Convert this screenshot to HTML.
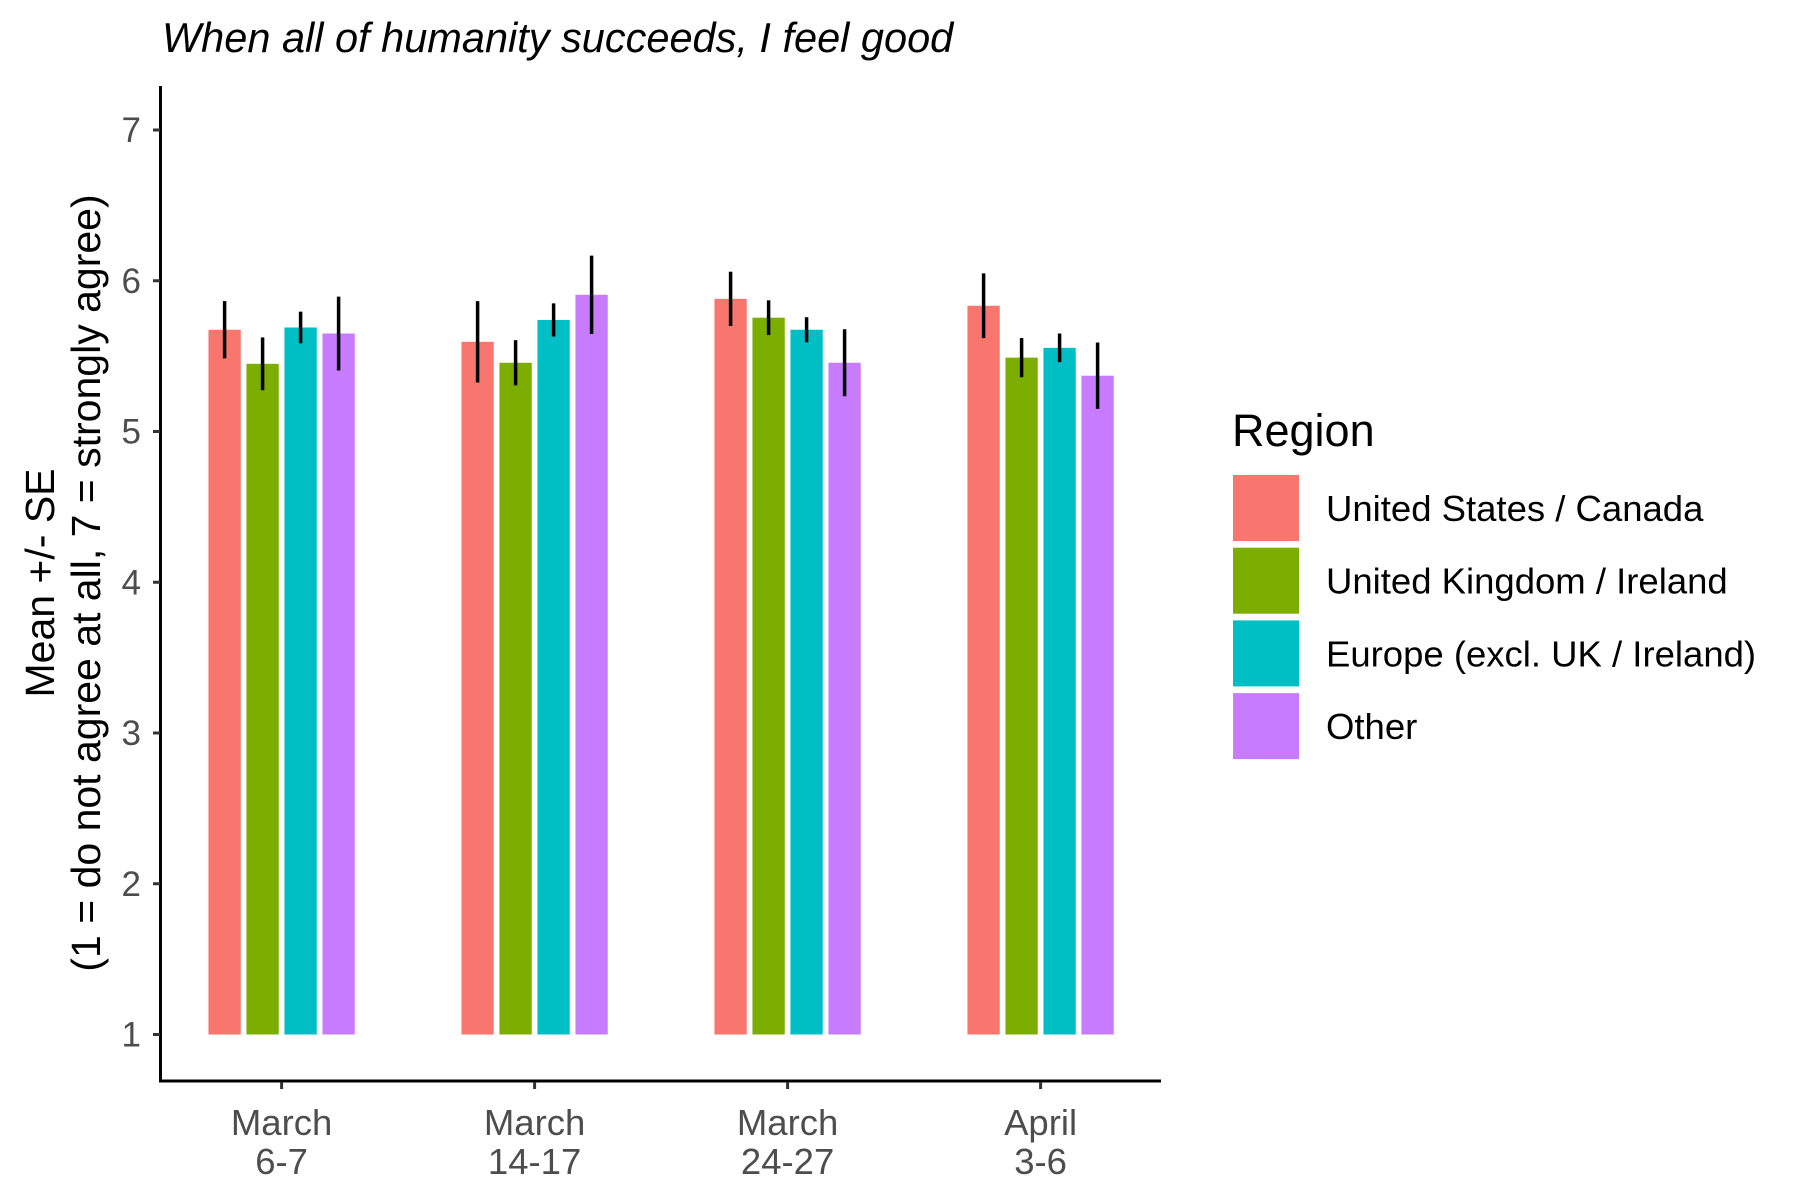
<!DOCTYPE html>
<html><head><meta charset="utf-8"><style>body{margin:0;background:#fff}svg{display:block}text{font-family:"Liberation Sans",sans-serif}</style></head>
<body>
<svg id="chart" width="1800" height="1200" xmlns="http://www.w3.org/2000/svg">
<text x="162" y="52" font-size="41.5" font-style="italic" fill="#000">When all of humanity succeeds, I feel good</text>
<g transform="translate(40,583) rotate(-90)">
<text x="0" y="14" font-size="41" text-anchor="middle" fill="#000">Mean +/- SE</text>
<text x="0" y="60" font-size="41" text-anchor="middle" fill="#000">(1 = do not agree at all, 7 = strongly agree)</text>
</g>
<g id="plot"></g>
<text x="1232" y="446" font-size="45" fill="#000">Region</text>
<g id="legend"></g>
</svg>
<script>
const categories = [["March","6-7"],["March","14-17"],["March","24-27"],["April","3-6"]];
const seriesNames = ["United States / Canada","United Kingdom / Ireland","Europe (excl. UK / Ireland)","Other"];
const colors = ["#F8766D","#7CAE00","#00BFC4","#C77CFF"];
const usCanada = [5.675, 5.595, 5.88, 5.834];
const ukIreland = [5.449, 5.456, 5.755, 5.49];
const europe = [5.69, 5.74, 5.675, 5.555];
const other = [5.65, 5.907, 5.456, 5.37];
const usCanadaSE = [0.19, 0.27, 0.18, 0.215];
const ukIrelandSE = [0.175, 0.15, 0.115, 0.13];
const europeSE = [0.105, 0.11, 0.083, 0.095];
const otherSE = [0.245, 0.26, 0.222, 0.22];
const yTicks = [1,2,3,4,5,6,7];
const series = [usCanada, ukIreland, europe, other];
const seList = [usCanadaSE, ukIrelandSE, europeSE, otherSE];

const NS="http://www.w3.org/2000/svg";
const plot=document.getElementById('plot');
const y0=1034.5, unit=150.75;
const yS=v=>y0-(v-1)*unit;
const xC=i=>281.6+i*253.0;
const step=38.0, bw=32.3;
function mk(tag,attrs,parent){const e=document.createElementNS(NS,tag);for(const k in attrs)e.setAttribute(k,attrs[k]);parent.appendChild(e);return e;}

const ax=mk('line',{x1:160.5,y1:86,x2:160.5,y2:1082,stroke:'#000','stroke-width':3},plot);


const axx=mk('line',{x1:159,y1:1081,x2:1161,y2:1081,stroke:'#000','stroke-width':3},plot);



yTicks.forEach(t=>{
  const l=mk('line',{x1:153,x2:160,y1:yS(t),y2:yS(t),stroke:'#333','stroke-width':3},plot);
  
  
  const tx=mk('text',{x:141,y:yS(t)+12,'font-size':35,'text-anchor':'end',fill:'#4d4d4d'},plot);
  tx.textContent=t;
  
  
});
categories.forEach((c,i)=>{
  const l=mk('line',{x1:xC(i),x2:xC(i),y1:1082,y2:1089,stroke:'#333','stroke-width':3},plot);
  
  
  const t1=mk('text',{x:xC(i),y:1135,'font-size':36.5,'text-anchor':'middle',fill:'#4d4d4d'},plot);
  t1.textContent=c[0];
  
  
  const t2=mk('text',{x:xC(i),y:1174,'font-size':36.5,'text-anchor':'middle',fill:'#4d4d4d'},plot);
  t2.textContent=c[1];
  
  
});
series.forEach((s,j)=>{
  s.forEach((v,i)=>{
    const cx=xC(i)+(j-1.5)*step;
    const r=mk('rect',{x:cx-bw/2,y:yS(v),width:bw,height:y0-yS(v),fill:colors[j]},plot);
    
    
    const se=seList[j][i];
    const e=mk('line',{x1:cx,x2:cx,y1:yS(v+se),y2:yS(v-se),stroke:'#000','stroke-width':3.5},plot);
    
    
  });
});
const leg=document.getElementById('legend');
seriesNames.forEach((n,j)=>{
  const y=475+j*72.7;
  const r=mk('rect',{x:1233,y:y,width:66,height:66,fill:colors[j]},leg);
  
  
  const t=mk('text',{x:1326,y:y+46,'font-size':36.5,fill:'#000'},leg);
  t.textContent=n;
  
  
});
</script>
</body></html>
